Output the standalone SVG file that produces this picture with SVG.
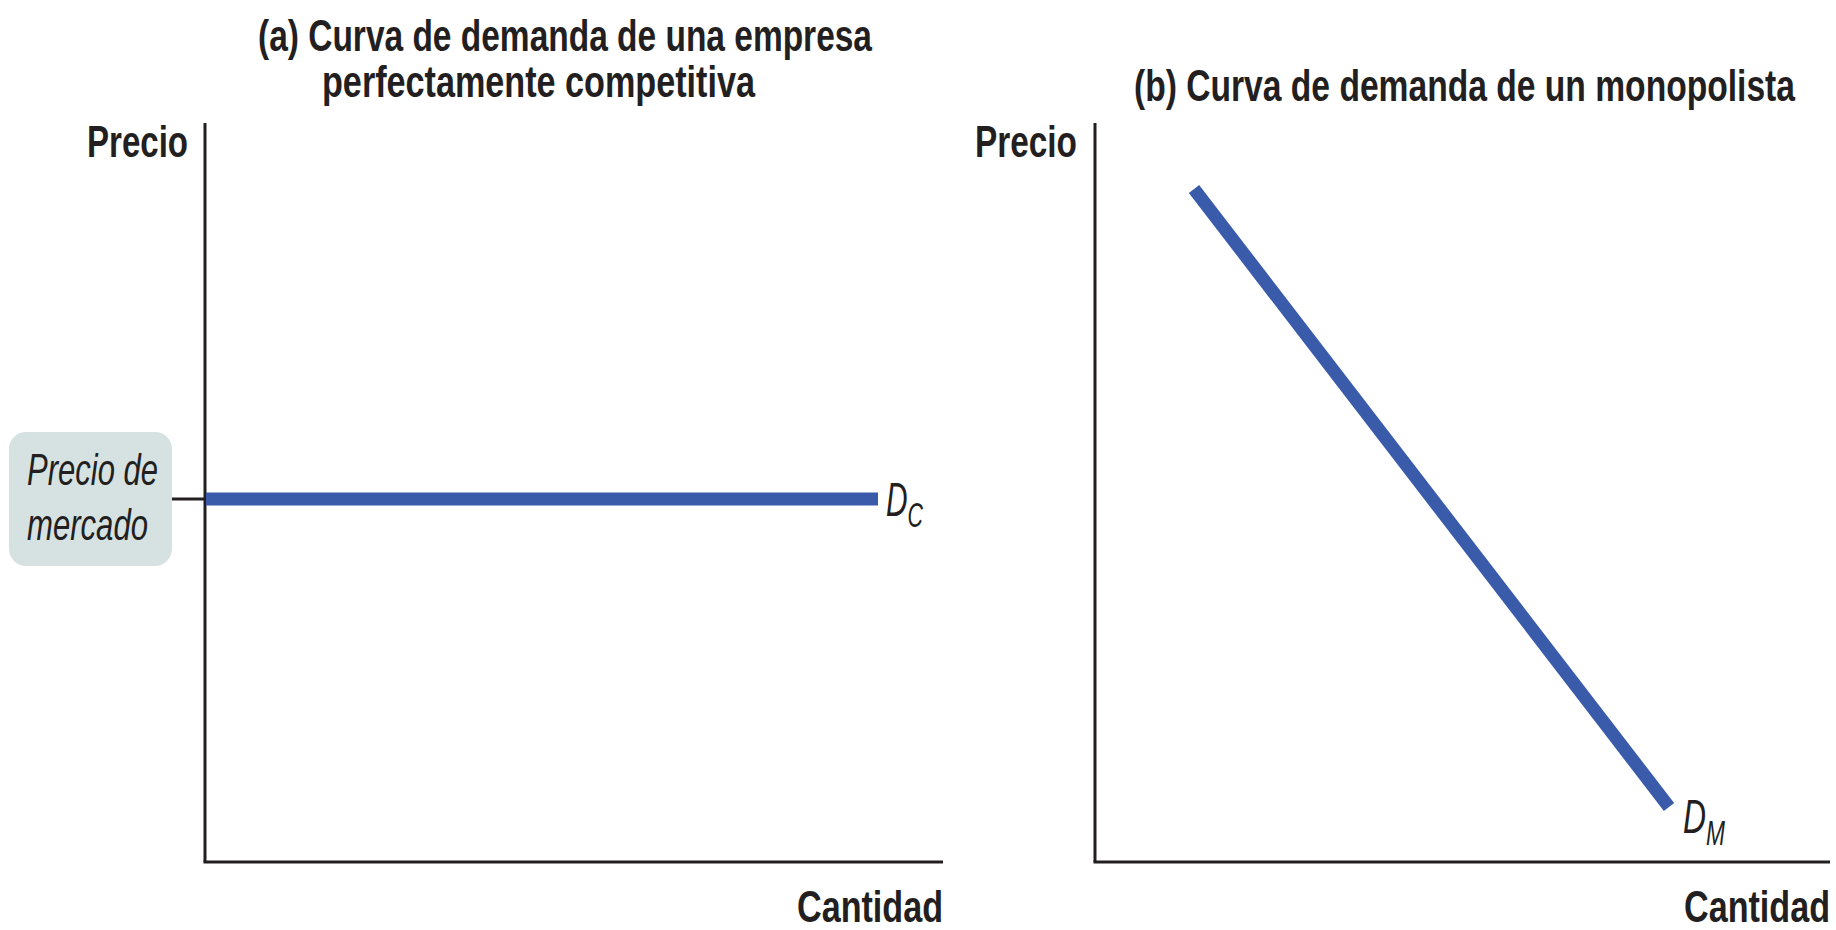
<svg xmlns="http://www.w3.org/2000/svg" width="1836" height="930" viewBox="0 0 1836 930">
<style>
.bg{fill:#ffffff}
.axis{stroke:#231f20;stroke-width:3;fill:none}
.curve{stroke:#3a5baa;stroke-width:13;fill:none;stroke-linecap:butt}
.title{font-family:"Liberation Sans",Arial,sans-serif;font-weight:bold;font-size:45px;fill:#231f20}
.lab{font-family:"Liberation Sans",Arial,sans-serif;font-weight:bold;font-size:45px;fill:#231f20}
.it{font-family:"Liberation Sans",Arial,sans-serif;font-style:italic;font-size:45px;fill:#231f20}
.dl{font-family:"Liberation Sans",Arial,sans-serif;font-style:italic;font-size:49px;fill:#231f20}
.sub{font-size:35px}
.box{fill:#d6e2e1}
</style>
<rect class="bg" x="0" y="0" width="1836" height="930"/>

<g id="panel-a-title">
<text class="title" x="258" y="51" textLength="614" lengthAdjust="spacingAndGlyphs">(a) Curva de demanda de una empresa</text>
<text class="title" x="322" y="97" textLength="433" lengthAdjust="spacingAndGlyphs">perfectamente competitiva</text>
</g>
<g id="panel-b-title">
<text class="title" x="1134" y="101" textLength="661" lengthAdjust="spacingAndGlyphs">(b) Curva de demanda de un monopolista</text>
</g>

<g id="axes-a">
<line class="axis" x1="205" y1="123" x2="205" y2="862"/>
<line class="axis" x1="203.5" y1="862" x2="943" y2="862"/>
<text class="lab" x="87" y="157" textLength="101" lengthAdjust="spacingAndGlyphs">Precio</text>
<text class="lab" x="797" y="922" textLength="146" lengthAdjust="spacingAndGlyphs">Cantidad</text>
</g>

<g id="axes-b">
<line class="axis" x1="1095" y1="123" x2="1095" y2="862"/>
<line class="axis" x1="1093.5" y1="862" x2="1830" y2="862"/>
<text class="lab" x="975" y="157" textLength="102" lengthAdjust="spacingAndGlyphs">Precio</text>
<text class="lab" x="1684" y="922" textLength="146" lengthAdjust="spacingAndGlyphs">Cantidad</text>
</g>

<g id="market-price">
<rect class="box" x="9" y="432" width="163" height="134" rx="17" ry="17"/>
<text class="it" x="27" y="485" textLength="131" lengthAdjust="spacingAndGlyphs">Precio de</text>
<text class="it" x="27" y="540" textLength="121" lengthAdjust="spacingAndGlyphs">mercado</text>
</g>

<g id="connectors">
<line class="axis" x1="172" y1="499" x2="205" y2="499"/>
<line class="curve" x1="206" y1="499" x2="878" y2="499"/>
<line class="curve" x1="1194" y1="189" x2="1669" y2="807"/>
</g>

<g id="label-dc">
<text class="dl" x="886" y="516" textLength="37" lengthAdjust="spacingAndGlyphs">D<tspan class="sub" dy="11">C</tspan></text>
</g>
<g id="label-dm">
<text class="dl" x="1683" y="833" textLength="42" lengthAdjust="spacingAndGlyphs">D<tspan class="sub" dy="12">M</tspan></text>
</g>
</svg>
